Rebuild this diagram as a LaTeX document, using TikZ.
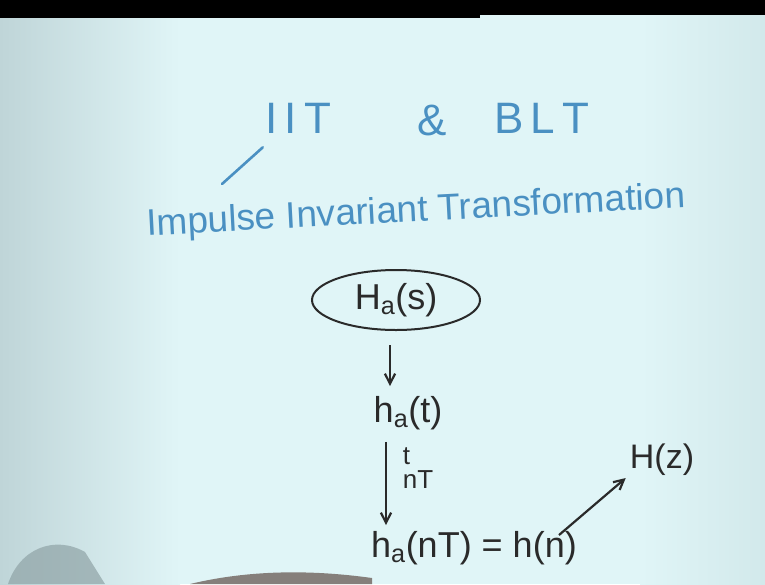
\documentclass[tikz,border=0pt]{standalone}
\usepackage{fontspec}
\setmainfont{Liberation Sans}
\definecolor{Board}{HTML}{E0F5F7}
\definecolor{BoardLeft}{HTML}{BFD5D8}
\definecolor{BoardRight}{HTML}{D2E9EB}
\definecolor{Marker}{HTML}{4A90C2}
\definecolor{Ink}{HTML}{2A2A2A}
\definecolor{Shadow}{HTML}{8FA3A6}
\definecolor{Hand}{HTML}{6F625C}
\usetikzlibrary{arrows.meta,positioning,shapes.geometric}
\tikzset{
  bluetext/.style={text=Marker,inner sep=0pt,font=\fontsize{44}{50}\selectfont},
  inktext/.style={text=Ink,inner sep=0pt,font=\fontsize{36}{40}\selectfont},
  inkarrow/.style={-{Straight Barb[length=3.5mm,width=3.6mm]},line width=2.2pt,color=Ink},
  markerline/.style={line width=2.6pt,color=Marker,line cap=round}
}

\begin{document}
\begin{tikzpicture}[x=1pt,y=-1pt]
  \useasboundingbox (0,0) rectangle (765,584);
  % whiteboard and frame
  \fill[Board] (0,0) rectangle (765,584);
  \shade[left color=BoardLeft,right color=Board] (0,0) rectangle (180,584);
  \shade[left color=Board,right color=BoardRight] (640,0) rectangle (765,584);
  \fill[black] (0,0) rectangle (480,18);
  \fill[black] (480,0) rectangle (765,15);
  \fill[Shadow,opacity=.7] (8,584) .. controls (20,548) and (55,535) .. (85,552) -- (105,584) -- cycle;
  \fill[Hand,opacity=.8] (190,584) .. controls (240,572) and (300,568) .. (372,578) -- (372,584) -- cycle;

  % heading
  \node[bluetext] (iit) at (298,118) {I\,I\,T};
  \node[bluetext] (amp) at (432,120) {\&};
  \node[bluetext] (blt) at (542,118) {B\,L\,T};
  \node[bluetext,font=\fontsize{37}{40}\selectfont,rotate=3] (iitname) at (416,212)
    {Impulse Invariant Transformation};
  \coordinate (tick) at (222,184);
  \draw[markerline] ([xshift=-2pt,yshift=-14pt]iit.south west) -- (tick);

  % chain
  \node[inktext,ellipse,draw=Ink,line width=2pt,minimum width=168pt,minimum height=60pt]
    (Has) at (396,300) {H\textsubscript{a}(s)};
  \node[inktext] (hat) at (408,413) {h\textsubscript{a}(t)};
  \node[inktext] (hnT) at (474,548) {h\textsubscript{a}(nT) = h(n)};
  \node[inktext,font=\fontsize{34}{36}\selectfont] (Hz) at (662,460) {H(z)};
  \node[inktext,font=\fontsize{26}{24}\selectfont,align=left] (tnT) at (418,468) {t\\nT};

  \draw[inkarrow,shorten <=14pt,shorten >=10pt] ([xshift=-6pt]Has.south) -- ([xshift=-6pt]Has.south |- hat.north);
  \draw[inkarrow,shorten <=12pt,shorten >=6pt] ([xshift=-22pt]hat.south) -- ([xshift=-22pt]hat.south |- hnT.north);
  \draw[inkarrow] ([xshift=-18pt,yshift=-4pt]hnT.north east) -- ([xshift=-4pt,yshift=-2pt]Hz.south west);
\end{tikzpicture}
\end{document}
